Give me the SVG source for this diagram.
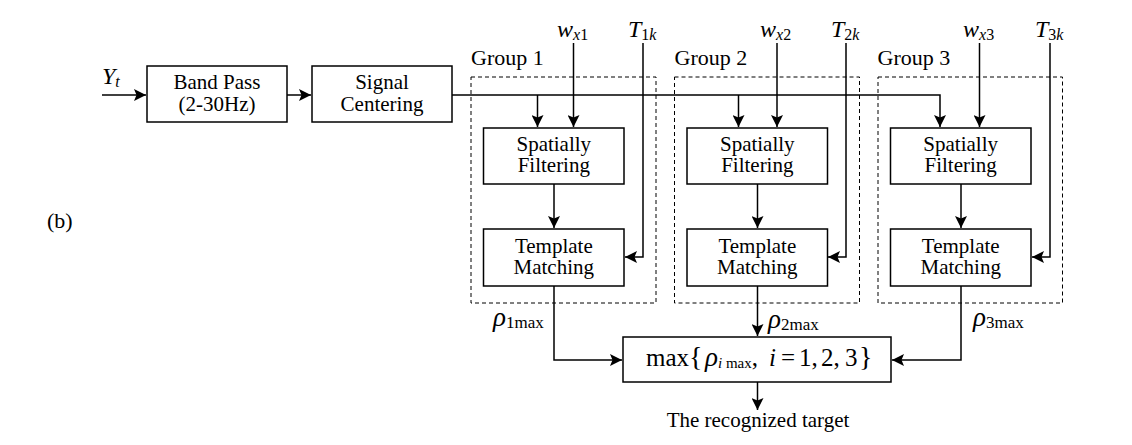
<svg xmlns="http://www.w3.org/2000/svg" width="1132" height="445" viewBox="0 0 1132 445">
<style>
text{font-family:"Liberation Serif","Times New Roman",serif;fill:#000}
.t{font-size:21px;text-anchor:middle}
.l{font-size:22px}
.it{font-style:italic}
.box{fill:#fff;stroke:#000;stroke-width:1.5}
.grp{fill:none;stroke:#000;stroke-width:1;stroke-dasharray:4,3}
.c{fill:none;stroke:#000;stroke-width:1.5}
</style>
<defs>
<marker id="a" markerUnits="userSpaceOnUse" markerWidth="14" markerHeight="12" refX="12" refY="6" orient="auto">
<path d="M0,0 L12,6 L0,12 L2.5,6 Z" fill="#000"/>
</marker>
</defs>
<rect width="1132" height="445" fill="#fff"/>

<g id="groups">
<rect class="grp" x="471" y="77" width="185" height="226"/>
<rect class="grp" x="674.5" y="77" width="185" height="226"/>
<rect class="grp" x="878" y="77" width="184.5" height="226"/>
<text class="l" x="471" y="65">Group 1</text>
<text class="l" x="674.5" y="65">Group 2</text>
<text class="l" x="877.5" y="65">Group 3</text>
</g>

<g id="connectors">
<path class="c" d="M102,95 H146" marker-end="url(#a)"/>
<path class="c" d="M287,95 H311" marker-end="url(#a)"/>
<path class="c" d="M452,95 H940 V127" marker-end="url(#a)"/>
<path class="c" d="M537.5,95 V127" marker-end="url(#a)"/>
<path class="c" d="M738.5,95 V127" marker-end="url(#a)"/>
<path class="c" d="M573.5,43 V127" marker-end="url(#a)"/>
<path class="c" d="M777,43 V127" marker-end="url(#a)"/>
<path class="c" d="M979.5,43 V127" marker-end="url(#a)"/>
<path class="c" d="M554,184 V228" marker-end="url(#a)"/>
<path class="c" d="M757.5,184 V228" marker-end="url(#a)"/>
<path class="c" d="M961,184 V228" marker-end="url(#a)"/>
<path class="c" d="M643,43 V257 H625" marker-end="url(#a)"/>
<path class="c" d="M846,43 V257 H828" marker-end="url(#a)"/>
<path class="c" d="M1050,43 V257 H1032" marker-end="url(#a)"/>
<path class="c" d="M554,286 V360 H622" marker-end="url(#a)"/>
<path class="c" d="M757.5,286 V336" marker-end="url(#a)"/>
<path class="c" d="M961,286 V360 H892" marker-end="url(#a)"/>
<path class="c" d="M757.5,382 V410" marker-end="url(#a)"/>
</g>

<g id="input">
<text class="l" x="102" y="84"><tspan class="it" font-size="24">Y</tspan><tspan class="it" font-size="16" dy="3">t</tspan></text>
</g>

<g id="bandpass">
<rect class="box" x="147" y="66" width="140" height="56"/>
<text class="t" x="217" y="89">Band Pass</text>
<text class="t" x="217" y="110.5">(2-30Hz)</text>
</g>

<g id="centering">
<rect class="box" x="312" y="66" width="140" height="56"/>
<text class="t" x="382" y="89">Signal</text>
<text class="t" x="382" y="110.5">Centering</text>
</g>

<g id="spatial1">
<rect class="box" x="483.5" y="128" width="140.5" height="56"/>
<text class="t" x="553.8" y="151">Spatially</text>
<text class="t" x="553.8" y="172">Filtering</text>
</g>
<g id="template1">
<rect class="box" x="483.5" y="229" width="140.5" height="57"/>
<text class="t" x="553.8" y="252.5">Template</text>
<text class="t" x="553.8" y="273.5">Matching</text>
</g>
<g id="spatial2">
<rect class="box" x="687" y="128" width="140.5" height="56"/>
<text class="t" x="757.3" y="151">Spatially</text>
<text class="t" x="757.3" y="172">Filtering</text>
</g>
<g id="template2">
<rect class="box" x="687" y="229" width="140.5" height="57"/>
<text class="t" x="757.3" y="252.5">Template</text>
<text class="t" x="757.3" y="273.5">Matching</text>
</g>
<g id="spatial3">
<rect class="box" x="890.5" y="128" width="140.5" height="56"/>
<text class="t" x="960.7" y="151">Spatially</text>
<text class="t" x="960.7" y="172">Filtering</text>
</g>
<g id="template3">
<rect class="box" x="890.5" y="229" width="140.5" height="57"/>
<text class="t" x="960.7" y="252.5">Template</text>
<text class="t" x="960.7" y="273.5">Matching</text>
</g>

<g id="weights">
<text x="557" y="37"><tspan class="it" font-size="24">w</tspan><tspan font-size="16" dy="3"><tspan class="it">x</tspan>1</tspan></text>
<text x="760" y="37"><tspan class="it" font-size="24">w</tspan><tspan font-size="16" dy="3"><tspan class="it">x</tspan>2</tspan></text>
<text x="963" y="37"><tspan class="it" font-size="24">w</tspan><tspan font-size="16" dy="3"><tspan class="it">x</tspan>3</tspan></text>
<text x="628" y="37"><tspan class="it" font-size="24">T</tspan><tspan font-size="16" dy="3">1<tspan class="it">k</tspan></tspan></text>
<text x="831" y="37"><tspan class="it" font-size="24">T</tspan><tspan font-size="16" dy="3">2<tspan class="it">k</tspan></tspan></text>
<text x="1035" y="37"><tspan class="it" font-size="24">T</tspan><tspan font-size="16" dy="3">3<tspan class="it">k</tspan></tspan></text>
</g>

<g id="rho-labels">
<text x="493" y="326"><tspan class="it" font-size="27">ρ</tspan><tspan font-size="17" dy="2">1max</tspan></text>
<text x="768" y="328"><tspan class="it" font-size="27">ρ</tspan><tspan font-size="17" dy="2">2max</tspan></text>
<text x="973" y="326"><tspan class="it" font-size="27">ρ</tspan><tspan font-size="17" dy="2">3max</tspan></text>
</g>

<g id="maxbox">
<rect class="box" x="623" y="337" width="268" height="45"/>
<text y="366" font-size="25"><tspan x="646">max</tspan><tspan x="689" font-size="28">{</tspan><tspan x="705" class="it" font-size="27">ρ</tspan><tspan font-size="15" dy="2"><tspan class="it">i</tspan> max</tspan><tspan dy="-2">,</tspan><tspan x="769" class="it">i</tspan><tspan x="781">=</tspan><tspan x="799">1,</tspan><tspan x="821">2,</tspan><tspan x="845">3</tspan><tspan x="859" font-size="28">}</tspan></text>
</g>

<g id="output">
<text class="t" x="758" y="427" font-size="22">The recognized target</text>
</g>

<g id="caption">
<text class="l" x="47" y="228">(b)</text>
</g>
</svg>
